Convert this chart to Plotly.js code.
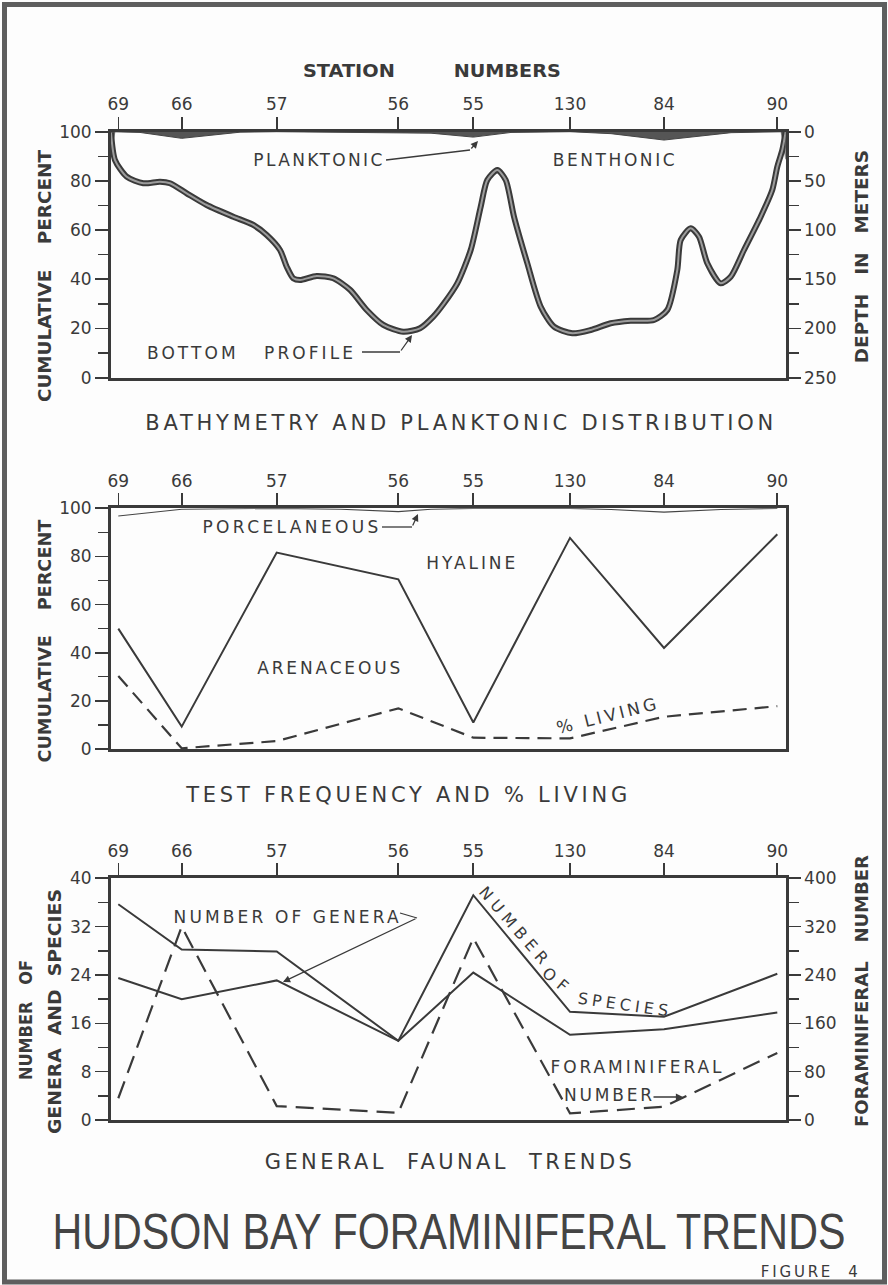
<!DOCTYPE html>
<html>
<head>
<meta charset="utf-8">
<script src="https://cdn.plot.ly/plotly-3.0.1.min.js"></script>
<style>html,body{margin:0;padding:0;background:#fdfdfd;}#chart{width:888px;height:1285px;}</style>
</head>
<body>
<div id="chart"></div>
<script>
// ---------------- DATA ----------------
const stations = ['69', '66', '57', '56', '55', '130', '84', '90'];
// position of each station along the section (figure distance units)
const stationDist = [7.3, 70.7, 165.7, 287.3, 362.3, 459, 553, 666.3];

// Panel 1: bottom profile (depth in metres) along the section
const profileDist = [0, 4, 15.7, 32.3, 49, 59, 75.7, 95.7, 122.3, 142.3, 155.7, 169, 175.7, 182.3, 189, 205.7, 222.3, 239, 255.7, 272.3, 292.3, 309, 322.3, 333, 346.3, 359.7, 369.7, 376.3, 386.3, 394.7, 403, 416.3, 429.7, 443, 461.3, 479.7, 499.7, 519.7, 543, 556.3, 566.3, 569.7, 579.7, 588, 596.3, 609.7, 619.7, 633, 649.7, 661.3, 666.3, 671.3, 674.7];
const profileDepth = [1, 28.8, 45.7, 52.4, 50.8, 52.4, 62.6, 74.5, 86.4, 94.8, 105, 120.2, 137.2, 149, 150.7, 146.6, 149, 160.7, 181.2, 196.4, 203.3, 199.8, 188, 174.4, 154.1, 120.2, 76.2, 49.1, 38.9, 49.1, 86.4, 133.7, 177.8, 198.2, 204.9, 201.5, 194.7, 192.1, 191.4, 181.2, 140.5, 110.1, 98.2, 106.7, 133.7, 154.1, 147.4, 120.2, 86.4, 59.2, 35.6, 18.6, 0];

// Panel 1: planktonic / benthonic boundary (cumulative percent)
const planktonDist = [0, 29, 70.7, 129, 165.7, 287.3, 320, 362.3, 400, 459, 500, 553, 620, 674.7];
const planktonPct = [100, 99.7, 97.3, 99.8, 100, 99.6, 99.4, 97.8, 99.7, 100, 99.2, 96.6, 99.6, 100];
// shaded slivers where the profile meets the end walls (depth, m)
const leftWedgeDist = [0, 0, 4];
const leftWedgeDepth = [0, 24, 0];
const rightWedgeDist = [674.7, 674.7, 670];
const rightWedgeDepth = [0, 28, 0];

// Panel 2: test frequency (cumulative percent) and % living, per station
const porcDist = [7.3, 70.7, 165.7, 230, 287.3, 320, 362.3, 459, 500, 553, 610, 666.3];
const porcPct = [96.8, 99.6, 100, 99.6, 98.6, 99.6, 100, 100, 99.5, 98.4, 99.5, 100];
const hyalinePct = [50, 9.3, 81.6, 70.5, 11, 87.7, 42, 89.2];
const livingPct = [30.3, 0.3, 3.3, 16.9, 4.7, 4.4, 13.4, 17.8];

// Panel 3: general faunal trends, per station
const speciesCount = [35.7, 28.2, 27.9, 13.1, 37.2, 17.9, 17.1, 24.2];
const generaCount = [23.5, 20, 23.1, 13.1, 24.4, 14.1, 15, 17.8];
const foramNumber = [36, 320, 23, 12, 301, 11, 22, 111];

// ---------------- LAYOUT HELPERS ----------------
const W = 888, H = 1285;
const px = x => x / W;
const py = y => 1 - y / H;
const INK = '#3a3a3a';
const FONT = 'DejaVu Sans, Verdana, sans-serif';
const NB = n => '\u00a0'.repeat(n);

const X0 = 111, X1 = 785.7;
const RANGE = [0, X1 - X0];

function xAxis(anchor) {
  return {
    domain: [px(X0), px(X1)], range: RANGE, anchor: anchor, side: 'top',
    tickmode: 'array', tickvals: stationDist, ticktext: stations,
    ticks: 'outside', ticklen: 12, tickwidth: 1.6, tickcolor: INK,
    showline: true, linewidth: 3, linecolor: INK, mirror: true,
    showgrid: false, zeroline: false, fixedrange: true,
    tickfont: {size: 17, color: INK, family: FONT}
  };
}
function yAxis(top, bottom, range, dtick, mdtick, extra) {
  return Object.assign({
    domain: [py(bottom), py(top)], range: range,
    tick0: 0, dtick: dtick, ticks: 'outside', ticklen: 13, tickwidth: 1.6, tickcolor: INK,
    minor: {dtick: mdtick, ticks: 'outside', ticklen: 10, tickwidth: 1.4, tickcolor: INK, showgrid: false},
    showline: true, linewidth: 3, linecolor: INK,
    showgrid: false, zeroline: false, fixedrange: true,
    tickfont: {size: 17, color: INK, family: FONT}
  }, extra || {});
}

// ---------------- TRACES ----------------
const base = {mode: 'lines', hoverinfo: 'skip', showlegend: false};
const traces = [
  Object.assign({}, base, {x: [RANGE[0], RANGE[1]], y: [100, 100], xaxis: 'x', yaxis: 'y', line: {width: 0, color: INK}}),
  Object.assign({}, base, {x: planktonDist, y: planktonPct, xaxis: 'x', yaxis: 'y', fill: 'tonexty', fillcolor: '#555', line: {width: 1, color: '#444'}}),
  Object.assign({}, base, {x: leftWedgeDist, y: leftWedgeDepth, xaxis: 'x', yaxis: 'y2', fill: 'toself', fillcolor: '#555', line: {width: 0.5, color: '#555'}}),
  Object.assign({}, base, {x: rightWedgeDist, y: rightWedgeDepth, xaxis: 'x', yaxis: 'y2', fill: 'toself', fillcolor: '#555', line: {width: 0.5, color: '#555'}}),
  Object.assign({}, base, {x: profileDist, y: profileDepth, xaxis: 'x', yaxis: 'y2', line: {width: 6, color: '#3a3a3a', shape: 'spline', smoothing: 0.7}}),
  Object.assign({}, base, {x: profileDist, y: profileDepth, xaxis: 'x', yaxis: 'y2', line: {width: 2, color: '#9c9c9c', shape: 'spline', smoothing: 0.7}}),

  Object.assign({}, base, {x: porcDist, y: porcPct, xaxis: 'x2', yaxis: 'y3', line: {width: 1.2, color: '#444'}}),
  Object.assign({}, base, {x: stationDist, y: hyalinePct, xaxis: 'x2', yaxis: 'y3', line: {width: 2, color: INK}}),
  Object.assign({}, base, {x: stationDist, y: livingPct, xaxis: 'x2', yaxis: 'y3', line: {width: 2.2, color: INK, dash: '14px,8px'}}),

  Object.assign({}, base, {x: stationDist, y: speciesCount, xaxis: 'x3', yaxis: 'y4', line: {width: 2, color: INK}}),
  Object.assign({}, base, {x: stationDist, y: generaCount, xaxis: 'x3', yaxis: 'y4', line: {width: 2, color: INK}}),
  Object.assign({}, base, {x: stationDist, y: foramNumber, xaxis: 'x3', yaxis: 'y5', line: {width: 2.2, color: INK, dash: '18px,9px'}})
];

// ---------------- ANNOTATIONS ----------------
const anns = [];
function T(text, x, y, size, opt) {
  const o = opt || {};
  anns.push({
    text: text, x: px(x), y: py(y), xref: 'paper', yref: 'paper', showarrow: false,
    xanchor: 'center', yanchor: 'middle', textangle: o.angle || 0,
    font: {family: o.family || FONT, size: size, color: o.color || INK, weight: o.weight || 400},
    tl: o.tl || 0, la: o.la || 'spacingAndGlyphs', ls: o.ls || 0, sy: o.sy || 0
  });
}
function ARW(x0, y0, x1, y1) {
  anns.push({
    text: '', x: px(x1), y: py(y1), xref: 'paper', yref: 'paper',
    ax: x0 - x1, ay: y0 - y1, showarrow: true, arrowhead: 2, arrowsize: 1.1,
    arrowwidth: 1.3, arrowcolor: INK, standoff: 0, startstandoff: 0, tl: 0, ls: 0, sy: 0
  });
}

// panel 1
T('STATION', 349, 70, 18, {weight: 700, tl: 92});
T('NUMBERS', 507, 70, 18, {weight: 700, tl: 107});
T('PLANKTONIC', 317.5, 160, 17, {tl: 129, la: 'spacing'});
T('BENTHONIC', 613, 160, 17, {tl: 122, la: 'spacing'});
T('BOTTOM' + NB(3) + 'PROFILE', 250, 352.5, 17, {tl: 206, la: 'spacing'});
T('CUMULATIVE' + NB(4) + 'PERCENT', 43.5, 276, 18, {weight: 700, angle: -90, tl: 252});
T('DEPTH' + NB(3) + 'IN' + NB(3) + 'METERS', 862, 257, 18, {weight: 700, angle: -90, tl: 213});
T('BATHYMETRY AND PLANKTONIC DISTRIBUTION', 459, 423, 21, {tl: 628, la: 'spacing'});
ARW(400, 352, 412, 335);
ARW(470, 150, 478, 141);

// panel 2
T('PORCELANEOUS', 290, 527, 17, {tl: 176, la: 'spacing'});
T('HYALINE', 471, 563, 17, {tl: 89, la: 'spacing'});
T('ARENACEOUS', 328, 668, 17, {tl: 143, la: 'spacing'});
T('% LIVING', 606, 716, 17, {angle: -14, tl: 102, la: 'spacing'});
T('CUMULATIVE' + NB(4) + 'PERCENT', 43.5, 641, 18, {weight: 700, angle: -90, tl: 243});
T('TEST FREQUENCY AND % LIVING', 406, 795, 21, {tl: 441, la: 'spacing'});
ARW(412, 527, 418, 514);

// panel 3
T('NUMBER' + NB(1) + 'OF' + NB(1) + 'GENERA', 286, 917, 17, {tl: 225, la: 'spacing'});
T('NUMBER', 514, 925, 16, {angle: 49, tl: 96, la: 'spacing'});
T('OF', 555, 980, 16, {angle: 40, tl: 28, la: 'spacing'});
T('SPECIES', 623, 1004, 16, {angle: 8, tl: 91, la: 'spacing'});
T('FORAMINIFERAL', 636.5, 1066.7, 17, {tl: 171, la: 'spacing'});
T('NUMBER', 608, 1095, 17, {tl: 88, la: 'spacing'});
T('NUMBER' + NB(3) + 'OF', 26, 1020, 18, {weight: 700, angle: -90, tl: 120});
T('GENERA' + NB(2) + 'AND' + NB(2) + 'SPECIES', 54, 1012, 18, {weight: 700, angle: -90, tl: 245});
T('FORAMINIFERAL' + NB(3) + 'NUMBER', 861, 991, 18, {weight: 700, angle: -90, tl: 272});
T('GENERAL' + NB(2) + 'FAUNAL' + NB(2) + 'TRENDS', 448.5, 1162, 21, {tl: 367, la: 'spacing'});
ARW(417, 918, 283, 982);
ARW(652, 1097, 683, 1097);

// main
T('HUDSON BAY FORAMINIFERAL TRENDS', 448.5, 1232, 40, {family: 'Liberation Sans, Arial, sans-serif', color: '#444', tl: 793, sy: 1.25});
T('FIGURE' + NB(2) + '4', 809, 1272, 15, {tl: 97, la: 'spacing'});

const extraList = anns.map(a => ({tl: a.tl, la: a.la, ls: a.ls, sy: a.sy}));
const annotations = anns.map(a => { const b = Object.assign({}, a); delete b.tl; delete b.la; delete b.ls; delete b.sy; return b; });

// ---------------- SHAPES ----------------
const L = (x0, y0, x1, y1) => ({type: 'line', xref: 'paper', yref: 'paper', x0: px(x0), y0: py(y0), x1: px(x1), y1: py(y1), line: {color: INK, width: 1.3}});
const shapes = [
  {type: 'rect', xref: 'paper', yref: 'paper', x0: px(4.5), x1: px(884.5), y0: py(4.5), y1: py(1282), line: {color: '#5e5e5e', width: 5}},
  L(386, 160, 470, 150),
  L(362, 352, 400, 352),
  L(382, 527, 412, 527),
  L(400, 913, 417, 918)
];

const layout = {
  width: W, height: H, margin: {l: 0, r: 0, t: 0, b: 0},
  paper_bgcolor: '#fdfdfd', plot_bgcolor: '#fdfdfd', showlegend: false,
  font: {family: FONT, color: INK, size: 16},
  xaxis: xAxis('y'),
  yaxis: yAxis(131.7, 377.7, [0, 100], 20, 10, {anchor: 'x'}),
  yaxis2: yAxis(131.7, 377.7, [250, 0], 50, 25, {overlaying: 'y', side: 'right', anchor: 'x', ticklen: 12}),
  xaxis2: xAxis('y3'),
  yaxis3: yAxis(508.3, 749, [0, 100], 20, 10, {anchor: 'x2', mirror: true}),
  xaxis3: xAxis('y4'),
  yaxis4: yAxis(878.3, 1120, [0, 40], 8, 4, {anchor: 'x3'}),
  yaxis5: yAxis(878.3, 1120, [0, 400], 80, 40, {overlaying: 'y4', side: 'right', anchor: 'x3', ticklen: 12}),
  annotations: annotations,
  shapes: shapes
};

Plotly.newPlot('chart', traces, layout, {staticPlot: true, displayModeBar: false}).then(() => {
  const nodes = document.querySelectorAll('#chart .annotation');
  nodes.forEach((g, i) => {
    const e = extraList[i];
    if (!e) return;
    const t = g.querySelector('text.annotation-text');
    if (!t) return;
    if (e.tl) {
      t.setAttribute('textLength', e.tl);
      t.setAttribute('lengthAdjust', e.la);
    } else if (e.ls) {
      t.style.letterSpacing = e.ls + 'px';
    }
    if (e.sy) {
      const bb = t.getBBox();
      const cy = bb.y + bb.height / 2;
      const prev = t.getAttribute('transform') || '';
      t.setAttribute('transform', prev + ' translate(0,' + cy + ') scale(1,' + e.sy + ') translate(0,' + (-cy) + ')');
    }
  });
});
</script>
</body>
</html>
